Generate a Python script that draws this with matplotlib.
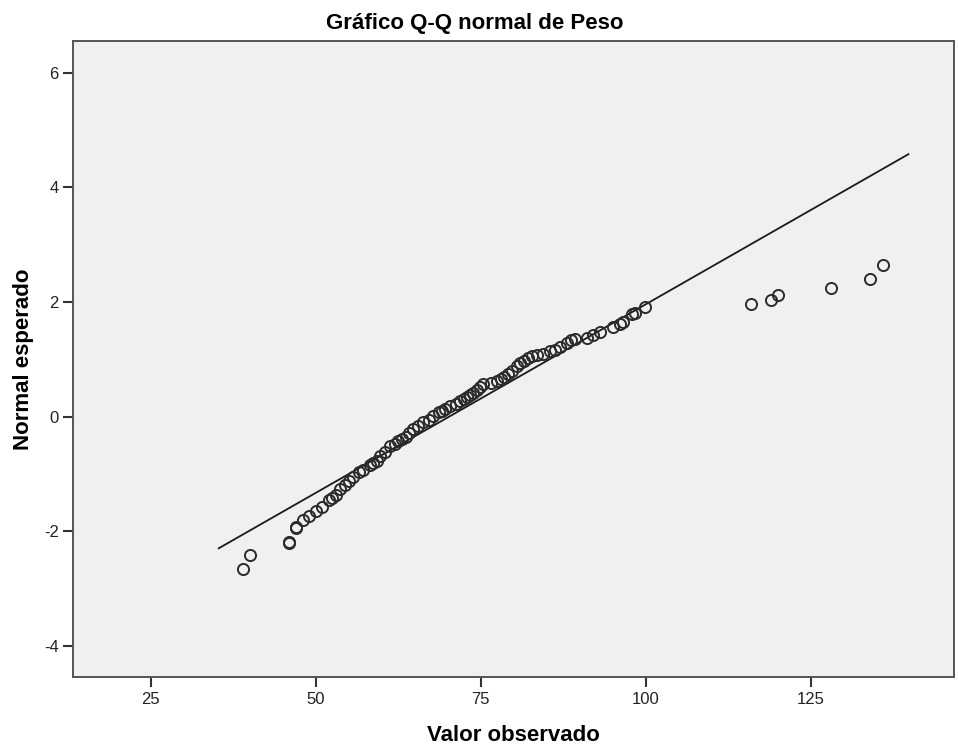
import numpy as np
import matplotlib.pyplot as plt

plt.rcParams['font.family'] = ['Liberation Sans', 'DejaVu Sans']
plt.rcParams['axes.unicode_minus'] = False

valor_observado = [39, 40, 46, 46, 47, 47, 48, 49, 50, 51, 52, 52.5, 53, 53.7, 54.5,
                   55.1, 55.7, 56.5, 57.2, 58.2, 58.7, 59.3, 59.8, 60.5, 61.3, 62.0,
                   62.5, 63.1, 63.6, 64.2, 64.8, 65.5, 66.3, 67.1, 67.8, 68.6, 69.1,
                   69.6, 70.4, 71.2, 71.9, 72.4, 72.9, 73.4, 73.9, 74.4, 74.9, 75.4,
                   76.5, 77.5, 78.0, 78.5, 79.2, 79.8, 80.5, 81.0, 81.5, 82.2, 82.8,
                   83.5, 84.5, 85.5, 86.2, 87.0, 88.0, 88.6, 89.3, 91.1, 92.0, 93.1,
                   95.1, 96.1, 96.6, 97.9, 98.3, 99.9,
                   116, 119, 120, 128, 134, 136]
normal_esperado = [-2.66, -2.41, -2.21, -2.18, -1.95, -1.92, -1.81, -1.73, -1.65, -1.57,
                   -1.45, -1.41, -1.36, -1.26, -1.19, -1.12, -1.06, -0.97, -0.93, -0.84,
                   -0.80, -0.77, -0.68, -0.62, -0.52, -0.47, -0.42, -0.39, -0.35, -0.29,
                   -0.22, -0.17, -0.10, -0.05, 0.02, 0.08, 0.10, 0.13, 0.19, 0.23,
                   0.28, 0.31, 0.35, 0.38, 0.42, 0.46, 0.51, 0.57, 0.59, 0.62, 0.65,
                   0.69, 0.75, 0.80, 0.89, 0.94, 0.98, 1.03, 1.05, 1.08, 1.10, 1.15,
                   1.17, 1.21, 1.28, 1.33, 1.35, 1.38, 1.42, 1.47, 1.56, 1.62, 1.65,
                   1.79, 1.80, 1.91,
                   1.97, 2.04, 2.13, 2.25, 2.40, 2.65]

# reference line (normal with sample mean / sd)
media = 70.2
desvio = 15.2
linea_x = [35.3, 139.8]

x_ticks = [25, 50, 75, 100, 125]
y_ticks = [-4, -2, 0, 2, 4, 6]

W, H = 958, 754
fig = plt.figure(figsize=(W / 100, H / 100), dpi=100)
ax = fig.add_axes([73.3 / W, 1 - 677.3 / H, (954 - 73.3) / W, (677.3 - 41.3) / H])
ax.set_facecolor('#f0f0f0')

lx = np.array(linea_x)
ax.plot(lx, (lx - media) / desvio, color='#1a1a1a', lw=1.3, zorder=2)
ax.plot(valor_observado, normal_esperado, 'o', ms=8, mfc='none',
        mec='#2b2b2b', mew=1.4, zorder=3)

ax.set_xlim(13.27, 146.7)
ax.set_ylim(-4.546, 6.548)
ax.set_xticks(x_ticks)
ax.set_yticks(y_ticks)
ax.tick_params(direction='out', length=7.5, width=1.5, color='#333333',
               labelsize=12, labelcolor='#222222', pad=3)
ax.tick_params(top=False, right=False)
for s in ax.spines.values():
    s.set_color('#555555')
    s.set_linewidth(1.4)

ax.set_xlabel('Valor observado', fontsize=16, fontweight='bold', labelpad=13)
ax.set_ylabel('Normal esperado', fontsize=16, fontweight='bold', labelpad=7)
fig.text(475 / W, 1 - 29.3 / H, 'Gráfico Q-Q normal de Peso', fontsize=16,
         fontweight='bold', ha='center', va='baseline')

fig.savefig('out.png', dpi=100, facecolor='white')
